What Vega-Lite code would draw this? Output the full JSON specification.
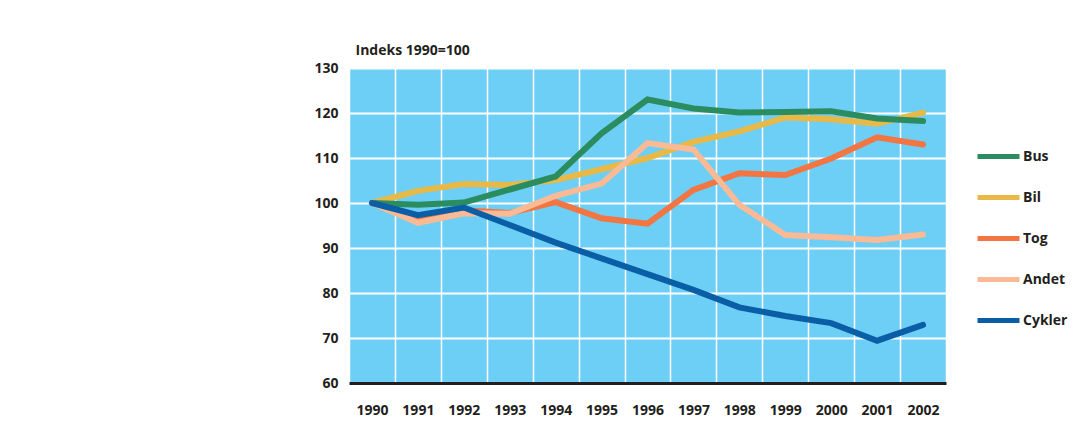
{
  "$schema": "https://vega.github.io/schema/vega-lite/v6.json",
  "width": 597,
  "height": 315,
  "autosize": {"type": "none"},
  "padding": {"left": 349, "top": 68, "right": 141, "bottom": 45},
  "background": "white",
  "config": {"view": {"fill": "#6dcff6", "stroke": null}, "font": "Open Sans"},
  "data": {"values": [
    {"series": "Tog", "year": "1990", "value": 100},
    {"series": "Tog", "year": "1991", "value": 96.9},
    {"series": "Tog", "year": "1992", "value": 98.4},
    {"series": "Tog", "year": "1993", "value": 97.8},
    {"series": "Tog", "year": "1994", "value": 100.2},
    {"series": "Tog", "year": "1995", "value": 96.6},
    {"series": "Tog", "year": "1996", "value": 95.4},
    {"series": "Tog", "year": "1997", "value": 102.9},
    {"series": "Tog", "year": "1998", "value": 106.6},
    {"series": "Tog", "year": "1999", "value": 106.2},
    {"series": "Tog", "year": "2000", "value": 109.9},
    {"series": "Tog", "year": "2001", "value": 114.6},
    {"series": "Tog", "year": "2002", "value": 113.0},
    {"series": "Bil", "year": "1990", "value": 100},
    {"series": "Bil", "year": "1991", "value": 102.7},
    {"series": "Bil", "year": "1992", "value": 104.2},
    {"series": "Bil", "year": "1993", "value": 104.0},
    {"series": "Bil", "year": "1994", "value": 105.1},
    {"series": "Bil", "year": "1995", "value": 107.5},
    {"series": "Bil", "year": "1996", "value": 110.0},
    {"series": "Bil", "year": "1997", "value": 113.6},
    {"series": "Bil", "year": "1998", "value": 115.9},
    {"series": "Bil", "year": "1999", "value": 119.0},
    {"series": "Bil", "year": "2000", "value": 118.6},
    {"series": "Bil", "year": "2001", "value": 117.6},
    {"series": "Bil", "year": "2002", "value": 120.1},
    {"series": "Bus", "year": "1990", "value": 100},
    {"series": "Bus", "year": "1991", "value": 99.6},
    {"series": "Bus", "year": "1992", "value": 100.1},
    {"series": "Bus", "year": "1993", "value": 103.0},
    {"series": "Bus", "year": "1994", "value": 105.9},
    {"series": "Bus", "year": "1995", "value": 115.5},
    {"series": "Bus", "year": "1996", "value": 123.0},
    {"series": "Bus", "year": "1997", "value": 121.0},
    {"series": "Bus", "year": "1998", "value": 120.1},
    {"series": "Bus", "year": "1999", "value": 120.2},
    {"series": "Bus", "year": "2000", "value": 120.4},
    {"series": "Bus", "year": "2001", "value": 118.8},
    {"series": "Bus", "year": "2002", "value": 118.2},
    {"series": "Andet", "year": "1990", "value": 100},
    {"series": "Andet", "year": "1991", "value": 95.6},
    {"series": "Andet", "year": "1992", "value": 97.7},
    {"series": "Andet", "year": "1993", "value": 97.6},
    {"series": "Andet", "year": "1994", "value": 101.6},
    {"series": "Andet", "year": "1995", "value": 104.3},
    {"series": "Andet", "year": "1996", "value": 113.3},
    {"series": "Andet", "year": "1997", "value": 111.9},
    {"series": "Andet", "year": "1998", "value": 99.6},
    {"series": "Andet", "year": "1999", "value": 92.9},
    {"series": "Andet", "year": "2000", "value": 92.4},
    {"series": "Andet", "year": "2001", "value": 91.8},
    {"series": "Andet", "year": "2002", "value": 93.0},
    {"series": "Cykler", "year": "1990", "value": 100},
    {"series": "Cykler", "year": "1991", "value": 97.3},
    {"series": "Cykler", "year": "1992", "value": 99.0},
    {"series": "Cykler", "year": "1993", "value": 95.1},
    {"series": "Cykler", "year": "1994", "value": 91.2},
    {"series": "Cykler", "year": "1995", "value": 87.7},
    {"series": "Cykler", "year": "1996", "value": 84.2},
    {"series": "Cykler", "year": "1997", "value": 80.7},
    {"series": "Cykler", "year": "1998", "value": 76.8},
    {"series": "Cykler", "year": "1999", "value": 74.9},
    {"series": "Cykler", "year": "2000", "value": 73.3},
    {"series": "Cykler", "year": "2001", "value": 69.4},
    {"series": "Cykler", "year": "2002", "value": 72.9}
  ]},
  "mark": {"type": "line", "strokeWidth": 6, "strokeCap": "round"},
  "encoding": {
    "x": {
      "field": "year", "type": "ordinal",
      "scale": {"type": "band", "paddingInner": 0, "paddingOuter": 0},
      "axis": {
        "title": null, "tickBand": "extent", "grid": true, "gridColor": "white", "gridWidth": 1.5, "gridOpacity": 1,
        "ticks": false, "domain": true, "domainColor": "#231f20", "domainWidth": 3,
        "labelFontSize": 14, "labelFontWeight": "bold", "labelColor": "#231f20", "labelPadding": 20, "labelAngle": 0
      }
    },
    "y": {
      "field": "value", "type": "quantitative",
      "scale": {"domain": [60, 130], "nice": false, "zero": false},
      "axis": {
        "values": [60, 70, 80, 90, 100, 110, 120, 130],
        "title": "Indeks 1990=100", "titleAngle": 0, "titleX": 6, "titleY": -14, "titleAlign": "left", "titleBaseline": "alphabetic",
        "titleFontSize": 14, "titleFontWeight": "bold", "titleColor": "#231f20",
        "domain": false, "ticks": false, "grid": true, "gridColor": "white", "gridWidth": 2, "gridOpacity": 1,
        "labelFontSize": 14, "labelFontWeight": "bold", "labelColor": "#231f20", "labelPadding": 11
      }
    },
    "color": {
      "field": "series", "type": "nominal",
      "scale": {"domain": ["Bus", "Bil", "Tog", "Andet", "Cykler"], "range": ["#2b8c60", "#e8b946", "#f27542", "#f9ba95", "#0a5ea6"]},
      "legend": {
        "title": null, "orient": "none", "legendX": 626, "legendY": 68, "padding": 0,
        "symbolType": "stroke", "symbolSize": 1764, "symbolStrokeWidth": 5, "clipHeight": 41, "rowPadding": 0,
        "labelFontSize": 14, "labelFontWeight": "bold", "labelColor": "#231f20", "labelOffset": 1
      }
    }
  }
}
